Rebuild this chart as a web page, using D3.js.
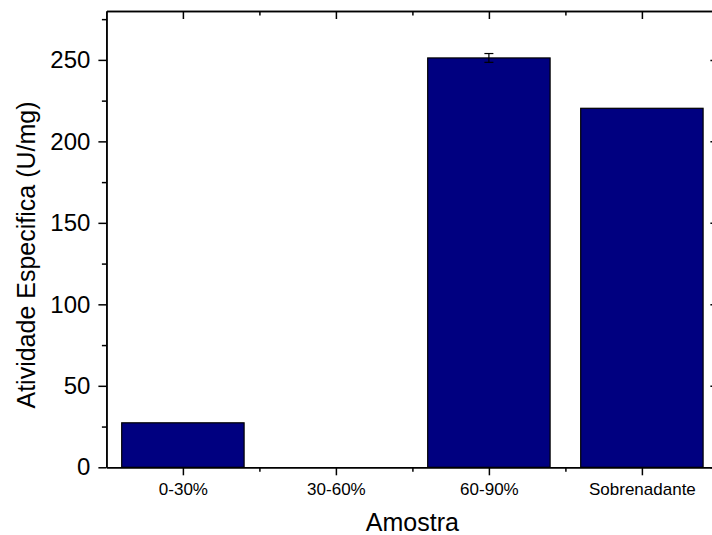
<!DOCTYPE html>
<html>
<head>
<meta charset="utf-8">
<script src="https://cdn.jsdelivr.net/npm/d3@7"></script>
<style>
  body { margin: 0; background: #fff; }
  text { font-family: "Liberation Sans", Arial, sans-serif; fill: #000; }
</style>
</head>
<body>
<div id="chart"></div>
<script>
// chart values
var categories = ["0-30%", "30-60%", "60-90%", "Sobrenadante"];
var atividade = [27.3, 0, 251.2, 220.3];
var erro = [0, 0, 2.7, 0];
var yMajor = [0, 50, 100, 150, 200, 250];
var yMinor = [25, 75, 125, 175, 225, 275];

var svgWidth = 712;
var svgHeight = 535;

var margin = { top: 11, left: 106.4 };
var width = 612;
var height = 456.3;

var svg = d3.select("#chart")
  .append("svg")
  .attr("width", svgWidth)
  .attr("height", svgHeight);

var chartGroup = svg.append("g")
  .attr("transform", `translate(${margin.left}, ${margin.top})`);

// categories sit on 1..4, frame spans 0.5..4.5
var xScale = d3.scaleLinear()
  .domain([0.5, categories.length + 0.5])
  .range([0, width]);

var yScale = d3.scaleLinear()
  .domain([0, 280])
  .range([height, 0]);

var catPos = categories.map((c, i) => i + 1);
var catMinor = categories.slice(1).map((c, i) => i + 1.5);
var barW = xScale(1.4) - xScale(0.6);

// bars
chartGroup.selectAll(".bar")
  .data(atividade)
  .enter()
  .append("rect")
  .attr("class", "bar")
  .attr("x", (d, i) => xScale(i + 1) - barW / 2)
  .attr("y", d => yScale(d))
  .attr("width", barW)
  .attr("height", d => height - yScale(d))
  .attr("fill", "#000080")
  .attr("stroke", "#000")
  .attr("stroke-width", 1.2);

// error bars
var errGroup = chartGroup.selectAll(".err")
  .data(atividade.map((v, i) => ({ v: v, e: erro[i], i: i })).filter(d => d.e > 0))
  .enter()
  .append("g")
  .attr("class", "err")
  .attr("stroke", "#000")
  .attr("stroke-width", 1.2);

errGroup.append("line")
  .attr("x1", d => xScale(d.i + 1))
  .attr("x2", d => xScale(d.i + 1))
  .attr("y1", d => yScale(d.v + d.e))
  .attr("y2", d => yScale(d.v - d.e));
errGroup.append("line")
  .attr("x1", d => xScale(d.i + 1) - 4.5)
  .attr("x2", d => xScale(d.i + 1) + 4.5)
  .attr("y1", d => yScale(d.v + d.e))
  .attr("y2", d => yScale(d.v + d.e));
errGroup.append("line")
  .attr("x1", d => xScale(d.i + 1) - 4.5)
  .attr("x2", d => xScale(d.i + 1) + 4.5)
  .attr("y1", d => yScale(d.v - d.e))
  .attr("y2", d => yScale(d.v - d.e));

// axes
function styleAxis(g) {
  g.selectAll("path, line").attr("stroke", "#000").attr("stroke-width", 1.5);
  g.selectAll("text").style("font-family", '"Liberation Sans", Arial, sans-serif');
}

// left
chartGroup.append("g")
  .call(d3.axisLeft(yScale).tickValues(yMajor).tickSize(8).tickSizeOuter(0).tickPadding(8))
  .call(styleAxis)
  .selectAll("text").style("font-size", "24px");
chartGroup.append("g")
  .call(d3.axisLeft(yScale).tickValues(yMinor).tickSize(4.5).tickSizeOuter(0).tickFormat(""))
  .call(styleAxis);

// right (inward ticks)
chartGroup.append("g")
  .attr("transform", `translate(${width}, 0)`)
  .call(d3.axisRight(yScale).tickValues(yMajor).tickSizeInner(-8).tickSizeOuter(0).tickFormat(""))
  .call(styleAxis);
chartGroup.append("g")
  .attr("transform", `translate(${width}, 0)`)
  .call(d3.axisRight(yScale).tickValues(yMinor).tickSizeInner(-4.5).tickSizeOuter(0).tickFormat(""))
  .call(styleAxis);

// bottom
chartGroup.append("g")
  .attr("transform", `translate(0, ${height})`)
  .call(d3.axisBottom(xScale).tickValues(catPos).tickSize(8).tickSizeOuter(0).tickPadding(7.5)
    .tickFormat(d => categories[d - 1]))
  .call(styleAxis)
  .selectAll("text").style("font-size", "17px");
chartGroup.append("g")
  .attr("transform", `translate(0, ${height})`)
  .call(d3.axisBottom(xScale).tickValues(catMinor).tickSize(4.5).tickSizeOuter(0).tickFormat(""))
  .call(styleAxis);

// top (inward ticks)
chartGroup.append("g")
  .call(d3.axisTop(xScale).tickValues(catPos).tickSizeInner(-8).tickSizeOuter(0).tickFormat(""))
  .call(styleAxis);
chartGroup.append("g")
  .call(d3.axisTop(xScale).tickValues(catMinor).tickSizeInner(-4.5).tickSizeOuter(0).tickFormat(""))
  .call(styleAxis);

// axis titles
svg.append("text")
  .attr("transform", "rotate(-90)")
  .attr("x", -255)
  .attr("y", 35)
  .attr("text-anchor", "middle")
  .style("font-size", "25px")
  .text("Atividade Especifica (U/mg)");

svg.append("text")
  .attr("x", margin.left + width / 2)
  .attr("y", 531)
  .attr("text-anchor", "middle")
  .style("font-size", "25px")
  .text("Amostra");
</script>
</body>
</html>
